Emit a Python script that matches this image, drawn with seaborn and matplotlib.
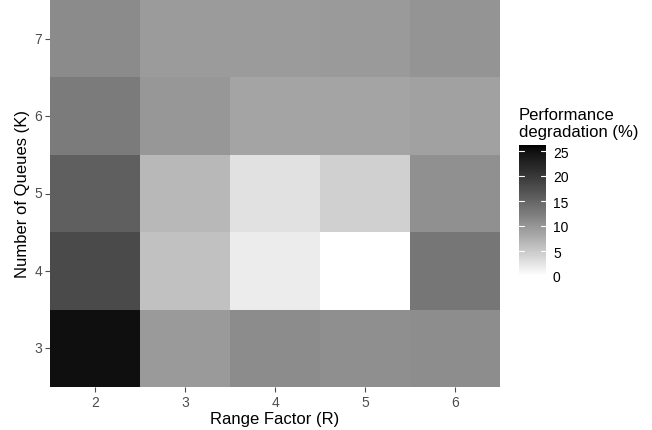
import numpy as np
import pandas as pd
import matplotlib
matplotlib.use("Agg")
import matplotlib.pyplot as plt
import matplotlib.transforms as mtransforms
from matplotlib.colors import ListedColormap
import seaborn as sns

range_factor = [2, 3, 4, 5, 6]
num_queues = [3, 4, 5, 6, 7]
# degradation (%) per row K (3..7), columns R (2..6)
deg_k3 = [25.0, 9.6, 10.9, 10.7, 10.8]
deg_k4 = [18.0, 5.8, 1.8, 0.0, 13.1]
deg_k5 = [15.6, 6.6, 2.8, 4.3, 10.6]
deg_k6 = [12.6, 9.9, 8.5, 8.5, 8.9]
deg_k7 = [11.0, 9.5, 9.5, 9.6, 10.2]
cbar_ticks = [0, 5, 10, 15, 20, 25]

df = pd.DataFrame([deg_k3, deg_k4, deg_k5, deg_k6, deg_k7],
                  index=num_queues, columns=range_factor)
df = df.iloc[::-1]

# white -> black gradient, linear in L* (like ggplot's Lab interpolation)
def l_to_gray(L):
    fy = (L + 16) / 116
    Y = np.where(fy ** 3 > 0.008856, fy ** 3, (L / 903.3))
    c = np.where(Y <= 0.0031308, 12.92 * Y, 1.055 * Y ** (1 / 2.4) - 0.055)
    return np.clip(c, 0, 1)

t = np.linspace(0, 1, 256)
g = l_to_gray(100 * (1 - t))
cmap = ListedColormap(np.stack([g, g, g], axis=1))

sns.set_style("white")
plt.rcParams['font.family'] = ['Liberation Sans', 'DejaVu Sans']

fig = plt.figure(figsize=(6.52, 4.31), dpi=100)
ax = fig.add_axes([50 / 652, 43 / 431, 450 / 652, 387 / 431])
cax = fig.add_axes([519 / 652, (431 - 277) / 431, 27 / 652, 131 / 431])

sns.heatmap(df, ax=ax, cmap=cmap, vmin=0, vmax=26.2, cbar_ax=cax,
            cbar_kws={"ticks": cbar_ticks})

for s in ax.spines.values():
    s.set_visible(False)
ax.set_xlabel("Range Factor (R)", fontsize=12, color="black", labelpad=2)
ax.set_ylabel("Number of Queues (K)", fontsize=12, color="black", labelpad=3)
ax.tick_params(axis="both", which="both", length=3.5, width=0.8, color="#4d4d4d",
               labelcolor="#4d4d4d", labelsize=10, pad=2,
               bottom=True, left=True)
plt.setp(ax.get_yticklabels(), rotation=0)
plt.setp(ax.get_xticklabels(), rotation=0)

cax.tick_params(axis="y", length=0, labelsize=10, labelcolor="black", pad=5)
for s in cax.spines.values():
    s.set_visible(False)
trans = mtransforms.blended_transform_factory(cax.transAxes, cax.transData)
for v in cbar_ticks:
    cax.plot([0, 0.2], [v, v], color="white", lw=0.8, transform=trans, zorder=5)
    cax.plot([0.8, 1.0], [v, v], color="white", lw=0.8, transform=trans, zorder=5)

fig.text(519 / 652, 1 - 140 / 431, "Performance\ndegradation (%)", fontsize=12,
         ha="left", va="bottom", color="black", linespacing=1.2)

fig.savefig("out.png", dpi=100)
